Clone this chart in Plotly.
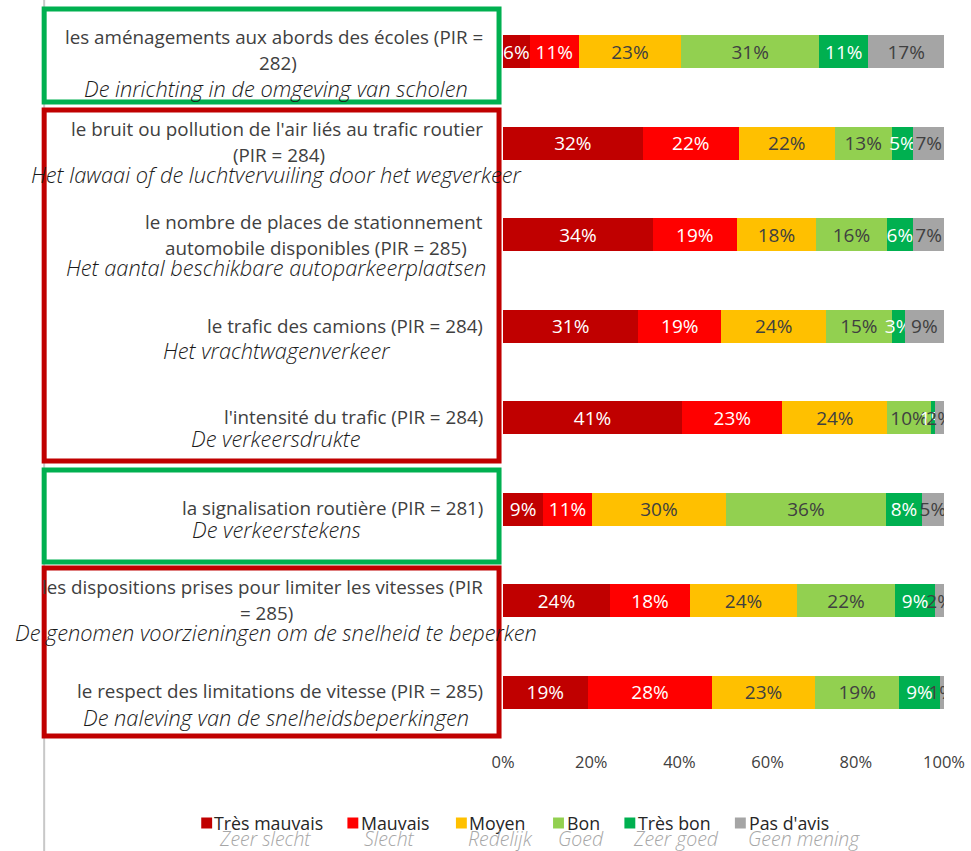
import plotly.graph_objects as go

# ---- data -------------------------------------------------------------
categories = [
    "les aménagements aux abords des écoles (PIR = 282)",
    "le bruit ou pollution de l'air liés au trafic routier (PIR = 284)",
    "le nombre de places de stationnement automobile disponibles (PIR = 285)",
    "le trafic des camions (PIR = 284)",
    "l'intensité du trafic (PIR = 284)",
    "la signalisation routière (PIR = 281)",
    "les dispositions prises pour limiter les vitesses (PIR = 285)",
    "le respect des limitations de vitesse (PIR = 285)",
]
category_lines_fr = [
    ["les aménagements aux abords des écoles (PIR =", "282)"],
    ["le bruit ou pollution de l'air liés au trafic routier", "(PIR = 284)"],
    ["le nombre de places de stationnement", "automobile disponibles (PIR = 285)"],
    ["le trafic des camions (PIR = 284)"],
    ["l'intensité du trafic (PIR = 284)"],
    ["la signalisation routière (PIR = 281)"],
    ["les dispositions prises pour limiter les vitesses (PIR", "= 285)"],
    ["le respect des limitations de vitesse (PIR = 285)"],
]
categories_nl = [
    "De inrichting in de omgeving van scholen",
    "Het lawaai of de luchtvervuiling door het wegverkeer",
    "Het aantal beschikbare autoparkeerplaatsen",
    "Het vrachtwagenverkeer",
    "De verkeersdrukte",
    "De verkeerstekens",
    "De genomen voorzieningen om de snelheid te beperken",
    "De naleving van de snelheidsbeperkingen",
]

series_fr = ["Très mauvais", "Mauvais", "Moyen", "Bon", "Très bon", "Pas d'avis"]
series_nl = ["Zeer slecht", "Slecht", "Redelijk", "Goed", "Zeer goed", "Geen mening"]

tres_mauvais = [6, 32, 34, 31, 41, 9, 24, 19]
mauvais = [11, 22, 19, 19, 23, 11, 18, 28]
moyen = [23, 22, 18, 24, 24, 30, 24, 23]
bon = [31, 13, 16, 15, 10, 36, 22, 19]
tres_bon = [11, 5, 6, 3, 1, 8, 9, 9]
pas_davis = [17, 7, 7, 9, 2, 5, 2, 1]
series_values = [tres_mauvais, mauvais, moyen, bon, tres_bon, pas_davis]

tick_values = [0, 20, 40, 60, 80, 100]
tick_labels = ["0%", "20%", "40%", "60%", "80%", "100%"]

# ---- styling ----------------------------------------------------------
W, H = 971, 851
PL, PR, PT, PB = 503, 948, 6, 738          # plot area in pixels
FONT = "Open Sans"
DARK = "#404040"
series_colors = ["#C00000", "#FF0000", "#FFC000", "#92D050", "#00B050", "#A5A5A5"]
text_colors = ["#FFFFFF", "#FFFFFF", DARK, DARK, "#FFFFFF", DARK]


def px(x):
    return (x - PL) / (PR - PL)


def py(y):
    return (PB - y) / (PB - PT)


fig = go.Figure()
for name, vals, col, tcol in zip(series_fr, series_values, series_colors, text_colors):
    fig.add_trace(go.Bar(
        y=categories, x=vals, name=name, orientation="h",
        marker=dict(color=col, line=dict(width=0)),
        text=[f"{v}%" for v in vals], texttemplate="%{text}",
        textposition="inside", insidetextanchor="middle",
        constraintext="none", textangle=0,
        textfont=dict(family=FONT, size=19, color=tcol),
        showlegend=False,
    ))

annotations = []
shapes = []

# left-hand category labels (French right-aligned, Dutch centred below)
fr_line_y = [[37, 63], [129, 155], [222, 248], [326], [417], [508], [587, 613], [691]]
fr_line2_cx = [276, 277, 314, None, None, None, 264, None]
nl_y = [89, 175, 268, 350, 438, 529, 632, 717]
for i, lines in enumerate(category_lines_fr):
    for j, line in enumerate(lines):
        first = j == 0
        annotations.append(dict(
            x=px(485 if first else fr_line2_cx[i]), y=py(fr_line_y[i][j]),
            xref="paper", yref="paper", text=line, showarrow=False,
            xanchor="right" if first else "center", yanchor="middle",
            font=dict(family=FONT, size=18.8, color=DARK)))
    annotations.append(dict(
        x=px(274), y=py(nl_y[i]), xref="paper", yref="paper",
        text=f"<i>{categories_nl[i]}</i>", showarrow=False,
        xanchor="center", yanchor="middle",
        font=dict(family=FONT, size=21.8, color="#1A1A1A", weight=350)))

# group frames
frames = [
    (9, 102, "#00B050"),
    (110, 461, "#C00000"),
    (470, 562, "#00B050"),
    (568, 736, "#C00000"),
]
for y0, y1, col in frames:
    shapes.append(dict(
        type="rect", xref="paper", yref="paper",
        x0=px(40), x1=px(499), y0=py(y0), y1=py(y1),
        line=dict(color=col, width=5), fillcolor="rgba(0,0,0,0)", layer="above"))

# thin vertical divider on the far left
shapes.append(dict(
    type="line", xref="paper", yref="paper",
    x0=px(40), x1=px(40), y0=py(0), y1=py(H),
    line=dict(color="#C8C8C8", width=2), layer="below"))

# legend (French entry with Dutch translation beneath)
leg_sq_x = [204, 351.5, 461, 559, 631, 742.5]
leg_fr_x = [209, 358, 467, 566, 637, 749]
leg_nl_x = [214, 361, 466, 556, 632, 748]
for i, (fr, nl, col) in enumerate(zip(series_fr, series_nl, series_colors)):
    shapes.append(dict(
        type="rect", xref="paper", yref="paper",
        x0=px(leg_sq_x[i] - 5.5), x1=px(leg_sq_x[i] + 5.5),
        y0=py(828.5), y1=py(817.5),
        line=dict(width=0), fillcolor=col))
    annotations.append(dict(
        x=px(leg_fr_x[i]), y=py(823), xref="paper", yref="paper",
        text=fr, showarrow=False, xanchor="left", yanchor="middle",
        font=dict(family=FONT, size=17.8, color="#262626")))
    annotations.append(dict(
        x=px(leg_nl_x[i]), y=py(838), xref="paper", yref="paper",
        text=f"<i>{nl}</i>", showarrow=False, xanchor="left", yanchor="middle",
        font=dict(family=FONT, size=19.5, color="#A6A6A6", weight=300)))

fig.update_layout(
    width=W, height=H,
    margin=dict(l=PL, r=W - PR, t=PT, b=H - PB, pad=0),
    barmode="stack", barnorm="percent", bargap=0.64,
    paper_bgcolor="white", plot_bgcolor="white",
    xaxis=dict(range=[0, 100], tickvals=tick_values, ticktext=tick_labels,
               showgrid=False, zeroline=False, showline=False,
               ticks="", ticklabelstandoff=12,
               tickfont=dict(family=FONT, size=16.5, color=DARK)),
    yaxis=dict(autorange="reversed", showticklabels=False, showgrid=False,
               zeroline=False, showline=False, ticks=""),
    annotations=annotations, shapes=shapes,
    font=dict(family=FONT, color=DARK),
)

fig.write_html("out.html")
